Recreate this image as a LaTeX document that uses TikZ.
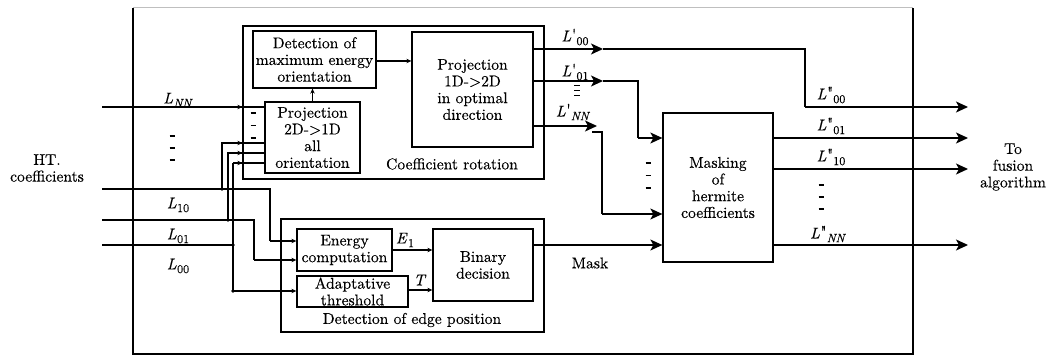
\documentclass[tikz,border=0pt]{standalone}
\usepackage{fontspec}
\setmainfont{lmroman10-regular.otf}[ItalicFont=lmroman10-italic.otf, FakeBold=0.3]
\usetikzlibrary{arrows.meta,calc}
\newcommand\fsz{\fontsize{15.6}{16.7}\selectfont}
\newcommand\subsz{\fontsize{12}{12}\selectfont}
% symbol with optional quote mark and lowered index
\newcommand\Lq[3]{\textit{#1}\kern0.5pt\raisebox{0.1ex}{\fontsize{17}{17}\selectfont #2}\raisebox{-0.55ex}{\subsz #3}}
\tikzset{
  ln/.style={line width=1.3pt},
  box/.style={draw, line width=1.3pt, inner sep=0pt},
  txt/.style={font=\fsz, align=center, inner sep=0pt},
  dsh/.style={line width=1.5pt},
  sarr/.style={ln, -{Stealth[length=5pt,width=4.5pt]}},
  barr/.style={ln, -{Stealth[length=12pt,width=11pt,inset=3pt]}},
  jdot/.style={fill, circle, inner sep=0pt, minimum size=3.6pt}
}
\begin{document}
\begin{tikzpicture}[x=1pt,y=-1pt]
\useasboundingbox (0,0) rectangle (1050,355);
% outer frame
\draw[ln] (133,8) -- (133,354) -- (913,354) -- (913,8);
\draw[line width=1pt, black!25] (133,8) -- (913,8);

% group boxes
\node[box, minimum width=301pt, minimum height=153pt] (coeff) at (393.5,102.5) {};
\node[box, minimum width=263pt, minimum height=113pt] (edge) at (412.5,275.5) {};
\node[txt] at (452,164) {Coefficient rotation};
\node[txt] at (412,320) {Detection of edge position};

% inner boxes
\node[box, minimum width=123pt, minimum height=57pt] (detmax) at (314.5,59.5) {};
\node[txt] at (detmax) {Detection of\\maximum energy\\orientation};
\node[box, minimum width=95pt, minimum height=71pt] (proj21) at (312.5,137.5) {};
\node[txt] at (proj21) {Projection\\2D->1D\\all\\orientation};
\node[box, minimum width=121pt, minimum height=115pt] (proj12) at (472.5,89.5) {};
\node[txt] at (proj12) {Projection\\1D->2D\\in optimal\\direction};
\node[box, minimum width=95pt, minimum height=42pt] (energy) at (344.5,250) {};
\node[txt] at (energy) {Energy\\computation};
\node[box, minimum width=111pt, minimum height=31pt] (thresh) at (352.5,291.5) {};
\node[txt] at (thresh) {Adaptative\\threshold};
\node[box, minimum width=100pt, minimum height=72pt] (binary) at (483,265) {};
\node[txt] at (binary) {Binary\\decision};
\node[box, minimum width=110pt, minimum height=149pt] (masking) at (718,187.5) {};
\node[txt] at (masking) {Masking\\of\\hermite\\coefficients};

% internal arrows
\draw[sarr] (detmax.east |- 0,61) -- (proj12.west |- 0,61);
\draw[sarr] (proj21.north) -- (proj21.north |- detmax.south);
\draw[sarr] (energy.east |- 0,250) -- (binary.west |- 0,250);
\draw[sarr] (thresh.east |- 0,290) -- (binary.west |- 0,290);
\node[txt] at (405,240) {\Lq{E}{}{1}};
\node[txt] at (420,280) {\textit{T}};

% inputs
\coordinate (inNN) at (102,107);
\coordinate (in10) at (102,189);
\coordinate (in01) at (102,220);
\coordinate (in00) at (102,245);
\coordinate (j10) at (222,189);
\coordinate (j01) at (228,220);
\coordinate (j00) at (233,245);
\coordinate (j00b) at (233,291);

\draw[ln] (inNN) -- (inNN -| proj21.west);
\draw[sarr] (inNN) -- (inNN -| coeff.west);

\draw[ln] (in10) -- (270,189) -- (270,241);
\draw[sarr] (270,241) -- (energy.west |- 0,241);
\draw[ln] (j10) -- (222,143) -- (proj21.west |- 0,143);
\draw[sarr] (222,143) -- (coeff.west |- 0,143);

\draw[ln] (in01) -- (254,220) -- (254,260);
\draw[sarr] (254,260) -- (energy.west |- 0,260);
\draw[ln] (j01) -- (228,153) -- (proj21.west |- 0,153);
\draw[sarr] (228,153) -- (coeff.west |- 0,153);

\draw[ln] (in00) -- (j00);
\draw[ln] (233,163) -- (j00b);
\draw[ln] (233,163) -- (proj21.west |- 0,163);
\draw[sarr] (233,163) -- (coeff.west |- 0,163);
\draw[sarr] (j00b) -- (thresh.west |- j00b);

\node[jdot] at (j10) {};
\node[jdot] at (j01) {};
\node[jdot] at (j00) {};
\node[jdot] at (j00b) {};

\node[txt] at (178,100) {\Lq{L}{}{\textit{NN}}};
\node[txt] at (178,205) {\Lq{L}{}{10}};
\node[txt] at (178,236) {\Lq{L}{}{01}};
\node[txt] at (178,266) {\Lq{L}{}{00}};
\foreach \y in {136,148,160} \draw[dsh] (169.5,\y) -- (174.5,\y);
\foreach \y in {113,125.5,138} \draw[dsh] (250.5,\y) -- (255.5,\y);
\node[txt] at (47,168) {HT.\\coefficients};

% rotated coefficients
\coordinate (r00) at (603,49);
\coordinate (r01) at (603,81);
\coordinate (rNN) at (597,126);
\draw[barr] (proj12.east |- r00) -- (r00);
\draw[barr] (proj12.east |- r01) -- (r01);
\draw[barr] (proj12.east |- rNN) -- (rNN);

\coordinate (o00) at (968,107);
\coordinate (o01) at (968,138);
\coordinate (o10) at (968,169);
\coordinate (oNN) at (968,245);

\draw[ln] (r00) -- (805,49) -- (805,107);
\draw[barr] (805,107) -- (o00);
\draw[ln] (r01) -- (638,81) -- (638,138);
\draw[barr] (638,138) -- (masking.west |- 0,138);
\draw[ln] (592,132) -- (602,132) -- (602,214);
\draw[barr] (602,214) -- (masking.west |- 0,214);
\draw[barr] (binary.east |- 0,245) -- (masking.west |- 0,245);
\node[txt] at (590,263) {Mask};

\node[txt] at (575,37) {\Lq{L}{\textquotesingle}{00}};
\node[txt] at (575,72) {\Lq{L}{\textquotesingle}{01}};
\node[txt] at (573,112) {\Lq{L}{\textquotesingle}{\textit{NN}}};
\foreach \y in {86,91,96} \draw[line width=1pt] (574,\y) -- (580,\y);
\foreach \y in {163,175.5,188} \draw[dsh] (645.5,\y) -- (650.5,\y);

% outputs
\draw[barr] (masking.east |- o01) -- (o01);
\draw[barr] (masking.east |- o10) -- (o10);
\draw[barr] (masking.east |- oNN) -- (oNN);
\node[txt] at (831,95) {\Lq{L}{\textquotedbl}{00}};
\node[txt] at (831,126) {\Lq{L}{\textquotedbl}{01}};
\node[txt] at (831,157) {\Lq{L}{\textquotedbl}{10}};
\node[txt] at (828,234) {\Lq{L}{\textquotedbl}{\textit{NN}}};
\foreach \y in {185,197,209} \draw[dsh] (818.5,\y) -- (823.5,\y);
\node[txt] at (1013,167) {To\\fusion\\algorithm};
\end{tikzpicture}
\end{document}
